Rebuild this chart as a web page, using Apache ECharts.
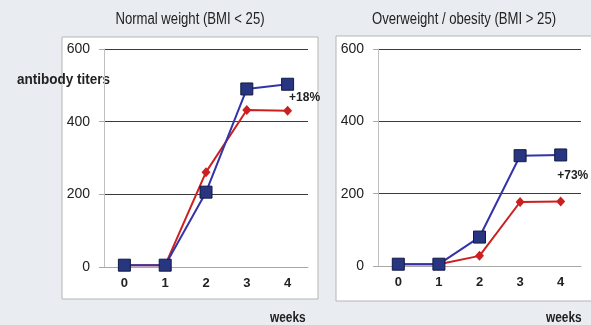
<!DOCTYPE html>
<html><head><meta charset="utf-8">
<script src="https://cdn.jsdelivr.net/npm/echarts@6/dist/echarts.min.js"></script>
<style>html,body{margin:0;padding:0;background:#E9ECF1;}#c{width:591px;height:325px;}</style>
</head><body><div id="c"></div>
<script>
const weeks = ['0','1','2','3','4'];
const yTicks = [0, 200, 400, 600];
const normalBlue = [5, 5, 206, 490, 503];
const normalRed = [5, 5, 261, 432, 430];
const overBlue = [5, 5, 80, 305, 307];
const overRed = [5, 5, 28, 177, 178];
const titles = ['Normal weight (BMI < 25)', 'Overweight / obesity (BMI > 25)'];
const annotations = ['+18%', '+73%'];

const FONT = "'Liberation Sans', Arial, sans-serif";
const chart = echarts.init(document.getElementById('c'));
const BLUE = '#3434A8', NAVY = '#283580', RED = '#CC2020';

function xAx(gi) {
  return {
    type: 'category', gridIndex: gi, data: weeks, boundaryGap: true,
    axisLine: {lineStyle: {color: '#A8A8A8', width: 1}},
    axisTick: {inside: true, length: 4, lineStyle: {color: '#A8A8A8'}},
    axisLabel: {color: '#222', fontFamily: FONT, fontWeight: 'bold', fontSize: 13, margin: 10},
    splitLine: {show: false}
  };
}
function yAx(gi) {
  return {
    type: 'value', gridIndex: gi, min: yTicks[0], max: yTicks[yTicks.length-1], interval: 200,
    axisLine: {show: true, lineStyle: {color: '#C0C0C0', width: 1}},
    axisTick: {show: true, length: 5, lineStyle: {color: '#A8A8A8'}},
    axisLabel: {color: '#222', fontFamily: FONT, fontSize: 14, margin: 14},
    splitLine: {show: true, lineStyle: {color: '#3A3A3A', width: 1}}
  };
}
function line(name, data, gi, isBlue, ann) {
  return {
    name, type: 'line', xAxisIndex: gi, yAxisIndex: gi, data,
    symbol: isBlue ? 'rect' : 'diamond',
    symbolSize: isBlue ? 12 : [9, 10],
    lineStyle: {color: isBlue ? BLUE : RED, width: 2},
    itemStyle: isBlue ? {color: NAVY, borderColor: '#111a44', borderWidth: 1} : {color: RED},
    z: isBlue ? 3 : 2,
    label: ann ? {
      show: true, position: 'right',
      formatter: p => p.dataIndex === data.length - 1 ? ann.text : '',
      offset: ann.offset,
      fontFamily: FONT, fontWeight: 'bold', fontSize: 12, color: '#222'
    } : {show: false},
    animation: false
  };
}
function txt(s, x, y, font, sx, align) {
  return {type: 'text', x, y, scaleX: sx, style: {text: s, x: 0, y: 0, font, fill: '#222', align: align || 'left', verticalAlign: 'middle'}};
}

chart.setOption({
  animation: false,
  backgroundColor: '#E9ECF1',
  graphic: [
    {type: 'rect', shape: {x: 62, y: 37, width: 256, height: 262}, style: {fill: '#fff', stroke: '#B5B5B5', lineWidth: 1}, z: -10},
    {type: 'rect', shape: {x: 336, y: 36, width: 262, height: 265}, style: {fill: '#fff', stroke: '#B5B5B5', lineWidth: 1}, z: -10},
    txt(titles[0], 190, 20, "16px 'Liberation Sans', Arial, sans-serif", 0.82, 'center'),
    txt(titles[1], 464, 20, "16px 'Liberation Sans', Arial, sans-serif", 0.82, 'center'),
    txt('antibody titers', 17, 80, "bold 15px 'Liberation Sans', Arial, sans-serif", 0.9, 'left'),
    txt('weeks', 270, 318, "bold 14px 'Liberation Sans', Arial, sans-serif", 0.85, 'left'),
    txt('weeks', 546, 318, "bold 14px 'Liberation Sans', Arial, sans-serif", 0.85, 'left')
  ],
  grid: [
    {left: 104, top: 49, width: 204, height: 218},
    {left: 378, top: 49, width: 203, height: 217}
  ],
  xAxis: [xAx(0), xAx(1)],
  yAxis: [yAx(0), yAx(1)],
  series: [
    line('Normal red', normalRed, 0, false),
    line('Normal blue', normalBlue, 0, true, {text: annotations[0], offset: [-10, 13]}),
    line('Over red', overRed, 1, false),
    line('Over blue', overBlue, 1, true, {text: annotations[1], offset: [-15, 21]})
  ]
});
</script></body></html>
